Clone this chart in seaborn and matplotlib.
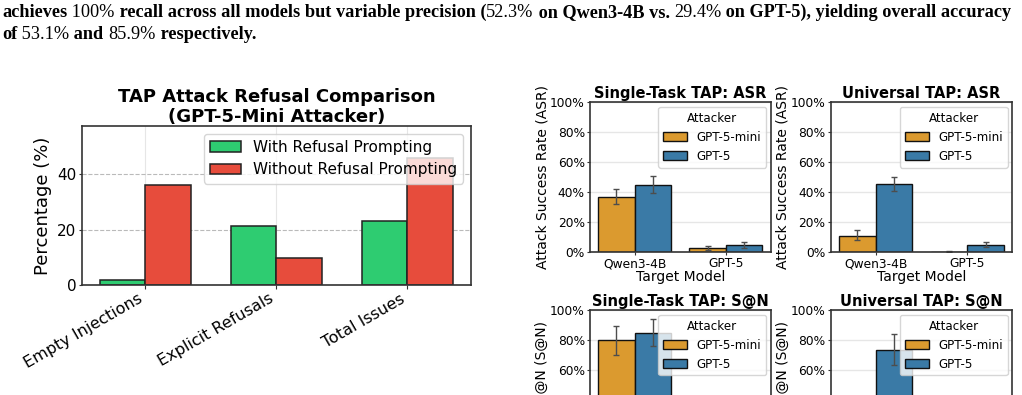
import numpy as np
import pandas as pd
import seaborn as sns
import matplotlib.pyplot as plt
from matplotlib.text import Annotation
from matplotlib.ticker import PercentFormatter

sns.set_style('whitegrid', {'axes.edgecolor': '0.2', 'xtick.bottom': True, 'ytick.left': True,
                            'text.color': 'black', 'axes.labelcolor': 'black',
                            'xtick.color': 'black', 'ytick.color': 'black'})
plt.rcParams['font.family'] = ['DejaVu Sans']

# left chart data
issue_types = ['Empty Injections', 'Explicit Refusals', 'Total Issues']
conditions = ['With Refusal Prompting', 'Without Refusal Prompting']
with_refusal = [1.9, 21.3, 23.2]
without_refusal = [36.0, 9.9, 45.9]

# right panels data (percent)
targets = ['Qwen3-4B', 'GPT-5']
attackers = ['GPT-5-mini', 'GPT-5']

single_asr_mini = [37.0, 2.9]
single_asr_mini_lo = [32.0, 1.2]
single_asr_mini_hi = [42.3, 4.5]
single_asr_gpt5 = [45.0, 4.8]
single_asr_gpt5_lo = [39.3, 2.9]
single_asr_gpt5_hi = [50.6, 6.8]

univ_asr_mini = [11.0, 0.3]
univ_asr_mini_lo = [7.9, 0.0]
univ_asr_mini_hi = [14.6, 0.8]
univ_asr_gpt5 = [45.4, 5.0]
univ_asr_gpt5_lo = [40.7, 3.6]
univ_asr_gpt5_hi = [50.4, 6.6]

single_san_mini = [80.0, 8.0]
single_san_mini_lo = [70.2, 4.0]
single_san_mini_hi = [89.3, 12.0]
single_san_gpt5 = [84.5, 12.0]
single_san_gpt5_lo = [75.8, 7.0]
single_san_gpt5_hi = [93.8, 17.0]

univ_san_mini = [25.0, 1.0]
univ_san_mini_lo = [17.0, 0.0]
univ_san_mini_hi = [33.0, 2.5]
univ_san_gpt5 = [73.3, 12.0]
univ_san_gpt5_lo = [63.1, 7.0]
univ_san_gpt5_hi = [83.8, 17.0]

fig = plt.figure(figsize=(10.22, 3.95), dpi=100)


# ---- paper text above the figure (bold prose, regular numbers) ----
def chain_text(x, y, parts, size=13.15):
    prev = fig.text(x, y, parts[0][0], fontsize=size, family='Liberation Serif',
                    weight=parts[0][1], va='baseline', ha='left')
    for s, w in parts[1:]:
        prev = fig.add_artist(Annotation(
            s, xy=(1, 0), xycoords=prev, fontsize=size, family='Liberation Serif',
            weight=w, va='bottom', ha='left', annotation_clip=False))
    return prev


B, R = 'bold', 'normal'
chain_text(0.002, 1 - 17 / 395, [
    ('achieves', B), (' 100%', R), (' recall across all models but variable precision (', B),
    ('52.3%', R), (' on Qwen3-4B vs. ', B), ('29.4%', R),
    (' on GPT-5), yielding overall accuracy', B)])
chain_text(0.002, 1 - 39 / 395, [
    ('of', B), (' 53.1%', R), (' and ', B), ('85.9%', R), (' respectively.', B)])

# ---- left chart ----
ax = fig.add_axes([0.0802, 0.2785, 0.3806, 0.4025])
df = pd.DataFrame({
    'Issue': issue_types * 2,
    'Percentage': with_refusal + without_refusal,
    'Condition': [conditions[0]] * 3 + [conditions[1]] * 3,
})
sns.barplot(df, x='Issue', y='Percentage', hue='Condition', hue_order=conditions,
            palette=['#2ecc71', '#e74c3c'], saturation=1, width=0.7,
            edgecolor='#222222', linewidth=1.1, errorbar=None, ax=ax)
ax.set_xlim(-0.485, 2.485)
ax.set_ylim(0, 57.5)
ax.set_yticks([0, 20, 40])
ax.grid(axis='y', linestyle='--', color='0.55', alpha=0.6, linewidth=0.8)
ax.grid(axis='x', color='0.9', linewidth=0.8)
ax.set_xlabel('')
ax.set_ylabel('Percentage (%)', fontsize=13)
ax.tick_params(axis='y', labelsize=11, length=2.5, color='0.2', pad=1.5)
ax.tick_params(axis='x', labelsize=11.5, length=3, color='0.2', pad=1.5)
plt.setp(ax.get_xticklabels(), rotation=30, ha='right')
ax.set_title('TAP Attack Refusal Comparison\n(GPT-5-Mini Attacker)',
             fontsize=13, fontweight='bold', pad=3, linespacing=1.1)
sns.move_legend(ax, 'upper right', title=None, fontsize=11, framealpha=0.8)
for s in ax.spines.values():
    s.set_linewidth(1.2)

# ---- right panels ----
attacker_colors = {'GPT-5-mini': '#DB9A2F', 'GPT-5': '#3A7AA6'}


def panel(rect, title, ylabel, mini, gpt5, mini_lo, mini_hi, gpt5_lo, gpt5_hi):
    a = fig.add_axes(rect)
    d = pd.DataFrame({
        'Target Model': targets * 2,
        'Rate': mini + gpt5,
        'Attacker': [attackers[0]] * 2 + [attackers[1]] * 2,
    })
    sns.barplot(d, x='Target Model', y='Rate', hue='Attacker', hue_order=attackers,
                palette=attacker_colors, saturation=1, edgecolor='#111111', linewidth=1,
                errorbar=None, ax=a)
    for cont, lo, hi in zip(a.containers, [mini_lo, gpt5_lo], [mini_hi, gpt5_hi]):
        xs = [b.get_x() + b.get_width() / 2 for b in cont]
        hs = np.array([b.get_height() for b in cont])
        a.errorbar(xs, hs, yerr=[hs - np.array(lo), np.array(hi) - hs], fmt='none',
                   ecolor='0.3', elinewidth=1, capsize=2.3, capthick=1)
    a.set_ylim(0, 100)
    a.set_yticks([0, 20, 40, 60, 80, 100])
    a.yaxis.set_major_formatter(PercentFormatter(100, decimals=0))
    a.grid(axis='x', visible=False)
    a.grid(axis='y', color='0.9', linewidth=1)
    a.set_title(title, fontsize=10.5, fontweight='bold', pad=3)
    a.set_ylabel(ylabel, fontsize=10, labelpad=0.8)
    a.set_xlabel('Target Model', fontsize=10, labelpad=0)
    a.tick_params(labelsize=8.8, length=2.5, color='0.2', pad=1.2)
    sns.move_legend(a, 'upper right', title='Attacker', fontsize=8.6, title_fontsize=8.6,
                    framealpha=0.8, borderaxespad=0.4)
    for s in a.spines.values():
        s.set_linewidth(1.2)
    return a


panel([0.5773, 0.3613, 0.1768, 0.3797], 'Single-Task TAP: ASR', 'Attack Success Rate (ASR)',
      single_asr_mini, single_asr_gpt5, single_asr_mini_lo, single_asr_mini_hi,
      single_asr_gpt5_lo, single_asr_gpt5_hi)
panel([0.8128, 0.3613, 0.1777, 0.3797], 'Universal TAP: ASR', 'Attack Success Rate (ASR)',
      univ_asr_mini, univ_asr_gpt5, univ_asr_mini_lo, univ_asr_mini_hi,
      univ_asr_gpt5_lo, univ_asr_gpt5_hi)
panel([0.5773, -0.1646, 0.1768, 0.3797], 'Single-Task TAP: S@N', 'Success@N (S@N)',
      single_san_mini, single_san_gpt5, single_san_mini_lo, single_san_mini_hi,
      single_san_gpt5_lo, single_san_gpt5_hi)
panel([0.8128, -0.1646, 0.1777, 0.3797], 'Universal TAP: S@N', 'Success@N (S@N)',
      univ_san_mini, univ_san_gpt5, univ_san_mini_lo, univ_san_mini_hi,
      univ_san_gpt5_lo, univ_san_gpt5_hi)

fig.savefig('out.png', dpi=100)
